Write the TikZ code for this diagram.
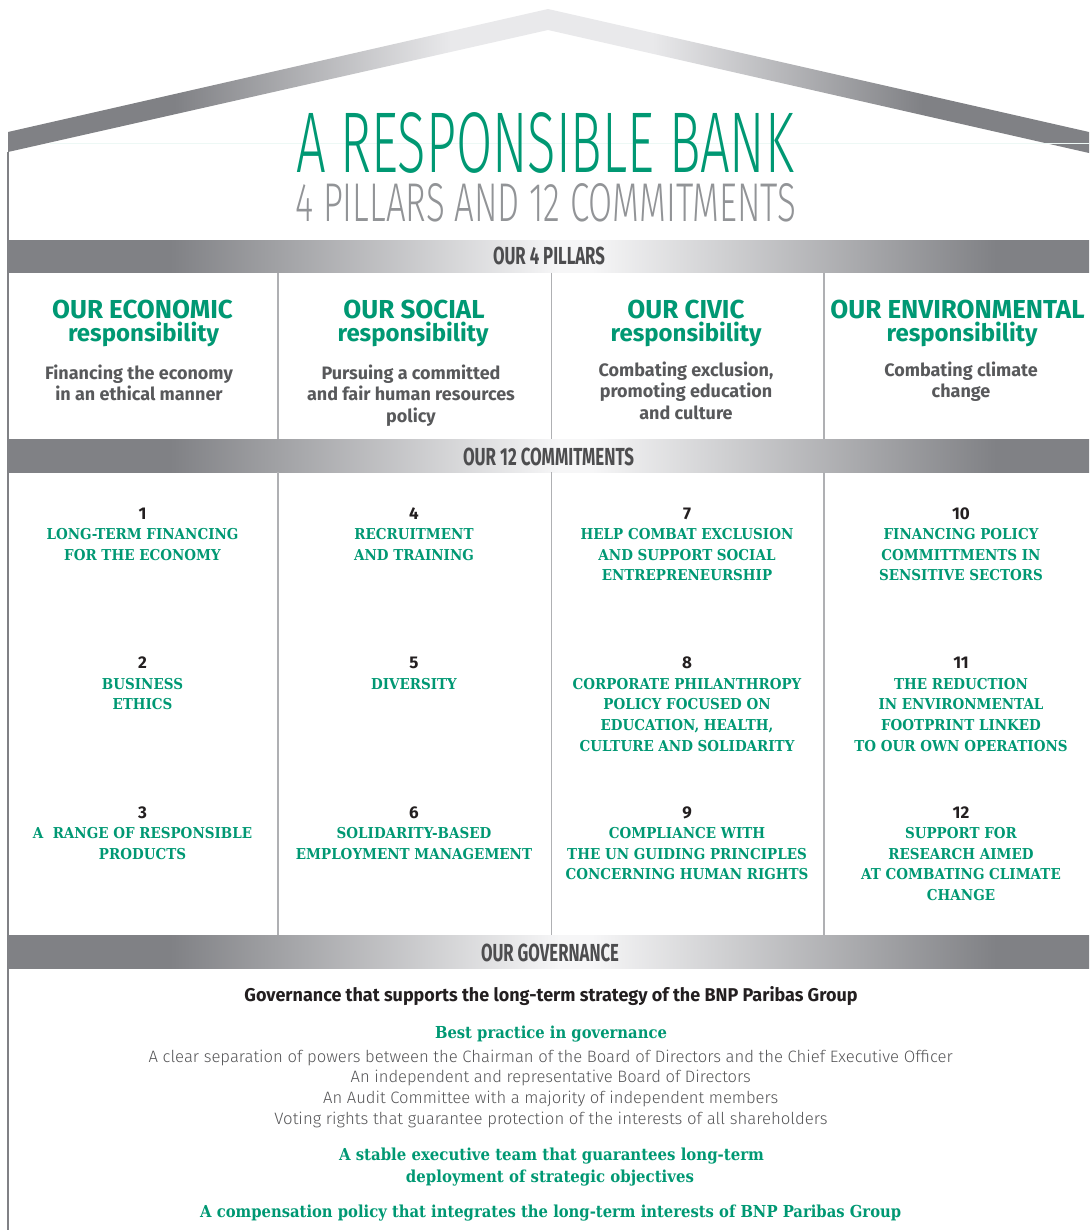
\documentclass[tikz,border=0pt]{standalone}
\usepackage{fontspec}
\usepackage{graphicx}
\setmainfont{Fira Sans}
\newfontfamily\slabfont{DejaVu Serif}[FakeStretch=0.9]
\newfontfamily\slabgov{DejaVu Serif}
\newfontfamily\lightfont{Fira Sans Light}
\definecolor{bgreen}{RGB}{0,152,115}
\definecolor{bdark}{RGB}{128,129,133}
\definecolor{blight}{RGB}{246,246,247}
\definecolor{rlight}{RGB}{233,233,235}
\definecolor{ttgray}{RGB}{146,148,151}
\definecolor{bantextc}{RGB}{77,77,79}
\definecolor{subgray}{RGB}{88,89,91}
\definecolor{numdark}{RGB}{35,31,32}
\definecolor{linegray}{RGB}{175,176,179}
\definecolor{wallgray}{RGB}{128,129,133}
\definecolor{listgray}{RGB}{85,85,87}
\pgfdeclarehorizontalshading{banshade}{100bp}{color(0bp)=(bdark); color(25bp)=(bdark); color(32.5bp)=(bdark); color(50.5bp)=(blight); color(52bp)=(blight); color(70.7bp)=(bdark); color(100bp)=(bdark)}
\pgfdeclarehorizontalshading{roofshade}{100bp}{color(0bp)=(bdark); color(25bp)=(bdark); color(32.7bp)=(bdark); color(45.5bp)=(rlight); color(54.8bp)=(rlight); color(67.3bp)=(bdark); color(100bp)=(bdark)}
\newcommand\fitw[2]{\resizebox{#1}{\height}{#2}}
\tikzset{
  base/.style={anchor=base, inner sep=0pt, outer sep=0pt},
  titlest/.style={base, font=\lightfont\fontsize{80}{80}\selectfont},
  bantext/.style={base, text=bantextc, font=\bfseries\fontsize{25}{25}\selectfont},
  phead/.style={base, text=bgreen, font=\bfseries\fontsize{26}{26}\selectfont},
  presp/.style={base, text=bgreen, font=\bfseries\fontsize{24}{24}\selectfont},
  psub/.style={base, text=subgray, font=\bfseries\fontsize{18}{18}\selectfont},
  numst/.style={base, text=numdark, font=\bfseries\fontsize{17}{17}\selectfont},
  comst/.style={base, text=bgreen, font=\slabfont\bfseries\fontsize{15}{15}\selectfont},
  govhead/.style={base, text=numdark, font=\bfseries\fontsize{18.5}{18.5}\selectfont},
  govgreen/.style={base, text=bgreen, font=\slabgov\bfseries\fontsize{16.5}{16.5}\selectfont},
  govlist/.style={base, text=listgray, font=\lightfont\fontsize{16.5}{16.5}\selectfont},
  colsep/.style={draw=linegray, line width=1.3pt}
}
\newcommand\commit[5]{%
  \node[numst] (#1) at (#2,#3) {#4};
  \foreach \t [count=\idx] in {#5}{\node[comst] (#1-\idx) at (#2,{#3+20.5+(\idx-1)*20.7}) {\t};}%
}
\newcommand\plines[4]{%
  \foreach \t [count=\idx] in {#4}{\node[psub] (#1-\idx) at (#2,{#3+(\idx-1)*21.5}) {\t};}%
}
\begin{document}
\begin{tikzpicture}[x=1pt,y=-1pt]
\useasboundingbox (0,0) rectangle (1089,1230);
% roof
\shade[shading=roofshade] (8,132) -- (548,9) -- (1089,132) -- (1089,153) -- (548,30) -- (8,152) -- cycle;
\draw[draw=bgreen!7, line width=0.8pt] (50,143) -- (1089,143);
% wall
\draw[wallgray, line width=1.2pt] (8,152) -- (8,1230);
% banners
\shade[shading=banshade] (8,240.5) rectangle (1089,273);
\shade[shading=banshade] (8,439) rectangle (1089,472);
\shade[shading=banshade] (8,935) rectangle (1089,968);
% column separators
\foreach \x in {278,551.5,824}{\draw[colsep] (\x,273) -- (\x,439); \draw[colsep] (\x,472) -- (\x,935);}
% title
\node[titlest, text=bgreen] (title) at (545,173) {\resizebox{498pt}{60pt}{A RESPONSIBLE BANK}};
\node[titlest, text=ttgray] (subtitle) at (545.75,222) {\resizebox{501pt}{38pt}{4 PILLARS AND 12 COMMITMENTS}};
% banner labels
\node[bantext] (b1) at (549,265) {\resizebox{112pt}{17.5pt}{OUR 4 PILLARS}};
\node[bantext] (b2) at (548.5,465) {\resizebox{171pt}{17.5pt}{OUR 12 COMMITMENTS}};
\node[bantext] (b3) at (550,961) {\resizebox{138pt}{17.5pt}{OUR GOVERNANCE}};
% pillars
\node[phead] (h1) at (142.5,318.5) {OUR ECONOMIC};
\node[phead] (h2) at (414,318.5) {OUR SOCIAL};
\node[phead] (h3) at (686,318.5) {OUR CIVIC};
\node[phead] (h4) at (957.5,318.5) {OUR ENVIRONMENTAL};
\node[presp] (r1) at (143.5,341) {responsibility};
\node[presp] (r2) at (413,341) {responsibility};
\node[presp] (r3) at (686,341) {responsibility};
\node[presp] (r4) at (962,341) {responsibility};
\plines{p1}{139}{379}{Financing the economy,in an ethical manner}
\plines{p2}{411}{379}{Pursuing a committed,and fair human resources,policy}
\plines{p3}{686}{376}{{Combating exclusion,},promoting education,and culture}
\plines{p4}{961}{376}{Combating climate,change}
% commitments
\commit{c1}{142.5}{519}{1}{LONG-TERM FINANCING,FOR THE ECONOMY}
\commit{c2}{142.5}{668.5}{2}{BUSINESS,ETHICS}
\commit{c3}{142.5}{818}{3}{A~ RANGE OF RESPONSIBLE,PRODUCTS}
\commit{c4}{414}{519}{4}{RECRUITMENT,AND TRAINING}
\commit{c5}{414}{668.5}{5}{DIVERSITY}
\commit{c6}{414}{818}{6}{SOLIDARITY-BASED,EMPLOYMENT MANAGEMENT}
\commit{c7}{687}{519}{7}{HELP COMBAT EXCLUSION,AND SUPPORT SOCIAL,ENTREPRENEURSHIP}
\commit{c8}{687}{668.5}{8}{CORPORATE PHILANTHROPY,POLICY FOCUSED ON,{EDUCATION, HEALTH,},CULTURE AND SOLIDARITY}
\commit{c9}{687}{818}{9}{COMPLIANCE WITH,THE UN GUIDING PRINCIPLES,CONCERNING HUMAN RIGHTS}
\commit{c10}{961}{519}{10}{FINANCING POLICY,COMMITTMENTS IN,SENSITIVE SECTORS}
\commit{c11}{961}{668.5}{11}{THE REDUCTION,IN ENVIRONMENTAL,FOOTPRINT LINKED,TO OUR OWN OPERATIONS}
\commit{c12}{961}{818}{12}{SUPPORT FOR,RESEARCH AIMED,AT COMBATING CLIMATE,CHANGE}
% governance
\node[govhead] (g0) at (551,1001.7) {\fitw{613pt}{Governance that supports the long-term strategy of the BNP Paribas Group}};
\node[govgreen] (g1) at (551,1038.3) {\fitw{232pt}{Best practice in governance}};
\node[govlist] (g2) at (550.7,1062.3) {\fitw{804pt}{A clear separation of powers between the Chairman of the Board of Directors and the Chief Executive Officer}};
\node[govlist] (g3) at (550.7,1082.7) {\fitw{400pt}{An independent and representative Board of Directors}};
\node[govlist] (g4) at (550.7,1103.3) {\fitw{455pt}{An Audit Committee with a majority of independent members}};
\node[govlist] (g5) at (551,1124) {\fitw{553pt}{Voting rights that guarantee protection of the interests of all shareholders}};
\node[govgreen] (g6) at (551.5,1160.7) {\fitw{425pt}{A stable executive team that guarantees long-term}};
\node[govgreen] (g7) at (550,1182.3) {\fitw{288pt}{deployment of strategic objectives}};
\node[govgreen] (g8) at (550.7,1217.3) {\fitw{701pt}{A compensation policy that integrates the long-term interests of BNP Paribas Group}};
\end{tikzpicture}
\end{document}
